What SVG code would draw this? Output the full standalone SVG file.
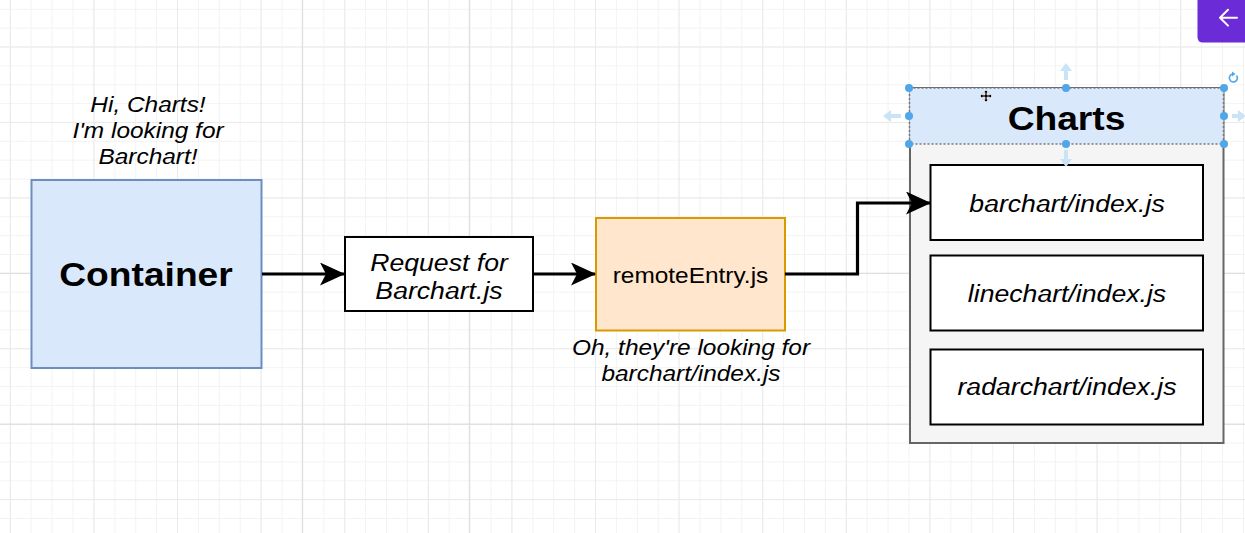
<svg xmlns="http://www.w3.org/2000/svg" width="1245" height="533" viewBox="0 0 1245 533">
<defs>
<style>
text{font-family:"Liberation Sans",Arial,sans-serif;fill:#000;text-anchor:middle}
.it{font-style:italic;font-size:22px}
.itl{font-style:italic;font-size:24px}
.bold{font-weight:bold;font-size:33.5px}
.reg{font-size:22px}
.conn{fill:none;stroke:#000;stroke-width:3.2}
.handle{fill:#4fa6e8}
.hint{fill:#c9e3f7}
</style>
<pattern id="minor" patternUnits="userSpaceOnUse" x="9.8" y="8.8" width="20.9" height="18.86">
<rect x="0" y="0" width="1" height="18.86" fill="#f3f3f3"/>
<rect x="0" y="0" width="20.9" height="1" fill="#f3f3f3"/>
</pattern>
<pattern id="major" patternUnits="userSpaceOnUse" x="9.8" y="46.5" width="83.6" height="75.44">
<rect x="0" y="0" width="1" height="75.44" fill="#eaeaea"/>
<rect x="0" y="0" width="83.6" height="1" fill="#eaeaea"/>
</pattern>
<marker id="arr" viewBox="0 0 25 23" refX="24" refY="11.5" markerWidth="25" markerHeight="23" markerUnits="userSpaceOnUse" orient="auto">
<path d="M0,0 L25,11.5 L0,23 L6,11.5 Z" fill="#000"/>
</marker>
</defs>

<g id="background">
<rect width="1245" height="533" fill="#fff"/>
<rect width="1245" height="533" fill="url(#minor)"/>
<rect width="1245" height="533" fill="url(#major)"/>
<rect x="0" y="272.8" width="1245" height="1.2" fill="#dfdfdf"/>
<rect x="0" y="423.7" width="1245" height="1.2" fill="#dfdfdf"/>
<rect x="301.8" y="0" width="1.2" height="533" fill="#dfdfdf"/>
<rect x="468.8" y="0" width="1.2" height="533" fill="#dfdfdf"/>
</g>

<g id="note-hi">
<text class="it" transform="translate(148,112) scale(1.11,1)">Hi, Charts!</text>
<text class="it" transform="translate(148,138) scale(1.11,1)">I'm looking for</text>
<text class="it" transform="translate(148,164) scale(1.11,1)">Barchart!</text>
</g>

<g id="container">
<rect x="31.5" y="180" width="230" height="188" fill="#dae8fc" stroke="#6c8ebf" stroke-width="2"/>
<text class="bold" transform="translate(146,286) scale(1.11,1)">Container</text>
</g>

<g id="request">
<rect x="345" y="237" width="188" height="74" fill="#fff" stroke="#000" stroke-width="2"/>
<text class="itl" transform="translate(439,270.5) scale(1.11,1)">Request for</text>
<text class="itl" transform="translate(439,298.5) scale(1.11,1)">Barchart.js</text>
</g>

<g id="remote-entry">
<rect x="596" y="218" width="189" height="112.5" fill="#ffe6cc" stroke="#d79b00" stroke-width="2"/>
<text class="reg" transform="translate(690.5,283) scale(1.11,1)">remoteEntry.js</text>
</g>

<g id="note-oh">
<text class="it" transform="translate(691,355) scale(1.11,1)">Oh, they're looking for</text>
<text class="it" transform="translate(691,380.5) scale(1.11,1)">barchart/index.js</text>
</g>

<g id="charts">
<rect x="910" y="88" width="313.5" height="355" fill="#f5f5f5" stroke="#666" stroke-width="2"/>
<rect x="909.5" y="88" width="314" height="56" fill="#dae8fc" stroke="#7a7a7a" stroke-width="1.5" stroke-dasharray="2,2"/>
<text class="bold" transform="translate(1066.5,129.5) scale(1.11,1)">Charts</text>
</g>

<g id="barchart">
<rect x="930.5" y="165" width="272.5" height="75" fill="#fff" stroke="#000" stroke-width="2"/>
<text class="itl" transform="translate(1067,211.5) scale(1.11,1)">barchart/index.js</text>
</g>
<g id="linechart">
<rect x="930.5" y="255.5" width="272.5" height="75" fill="#fff" stroke="#000" stroke-width="2"/>
<text class="itl" transform="translate(1067,301.5) scale(1.11,1)">linechart/index.js</text>
</g>
<g id="radarchart">
<rect x="930.5" y="349.5" width="272.5" height="75" fill="#fff" stroke="#000" stroke-width="2"/>
<text class="itl" transform="translate(1067,395) scale(1.11,1)">radarchart/index.js</text>
</g>

<g id="connectors">
<path class="conn" d="M262,274 L344,274" marker-end="url(#arr)"/>
<path class="conn" d="M533,274 L595,274" marker-end="url(#arr)"/>
<path class="conn" d="M785,274 L857.5,274 L857.5,203 L930,203" marker-end="url(#arr)"/>
</g>

<g id="selection">
<path class="hint" d="M1066,63 L1072,71 L1068,71 L1068,80 L1064,80 L1064,71 L1060,71 Z"/>
<path class="hint" d="M1066,167 L1072,159 L1068,159 L1068,150 L1064,150 L1064,159 L1060,159 Z"/>
<path class="hint" d="M883,116 L891,110 L891,114 L901,114 L901,118 L891,118 L891,122 Z"/>
<path class="hint" d="M1246,116 L1238,110 L1238,114 L1232,114 L1232,118 L1238,118 L1238,122 Z"/>
<circle class="handle" cx="909" cy="88" r="4"/>
<circle class="handle" cx="1066" cy="88" r="4"/>
<circle class="handle" cx="1224" cy="88" r="4"/>
<circle class="handle" cx="909" cy="116" r="4"/>
<circle class="handle" cx="1224" cy="116" r="4"/>
<circle class="handle" cx="909" cy="144" r="4"/>
<circle class="handle" cx="1066" cy="144" r="4"/>
<circle class="handle" cx="1224" cy="144" r="4"/>
<path d="M1236.5,75.5 A4,4 0 1 1 1233,74" fill="none" stroke="#4fa6e8" stroke-width="1.6"/>
<path d="M1232,71.5 L1235.5,74 L1232,76.5 Z" fill="#4fa6e8"/>
<g transform="translate(986,96)">
<path d="M0,-6 L2.5,-3.5 L1,-3.5 L1,-1 L3.5,-1 L3.5,-2.5 L6,0 L3.5,2.5 L3.5,1 L1,1 L1,3.5 L2.5,3.5 L0,6 L-2.5,3.5 L-1,3.5 L-1,1 L-3.5,1 L-3.5,2.5 L-6,0 L-3.5,-2.5 L-3.5,-1 L-1,-1 L-1,-3.5 L-2.5,-3.5 Z" fill="#000" stroke="#ddd" stroke-width="0.8"/>
</g>
</g>

<g id="back-button">
<path d="M1197.5,0 L1245,0 L1245,42.5 L1203,42.5 Q1197.5,42.5 1197.5,37 Z" fill="#6b2bd6"/>
<path d="M1220,17.7 L1237,17.7 M1228,9.8 L1220,17.7 L1228,25.6" fill="none" stroke="#fff" stroke-width="2" stroke-linecap="round" stroke-linejoin="round"/>
</g>
</svg>
